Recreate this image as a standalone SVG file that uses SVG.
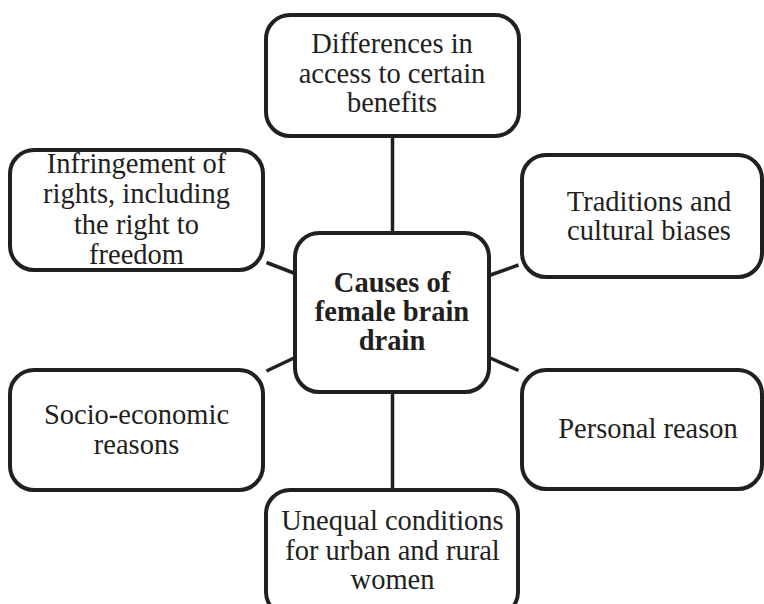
<svg xmlns="http://www.w3.org/2000/svg" width="764" height="604" viewBox="0 0 764 604">
<style>
.box{fill:#fff;stroke:#231f20;stroke-width:4}
.ln{stroke:#231f20;stroke-width:3.5;fill:none}
text{font-family:"Liberation Serif","Times New Roman",serif;font-size:28.5px;fill:#231f20;text-anchor:middle}
.b{font-weight:bold}
</style>
<rect width="764" height="604" fill="#fff"/>
<g id="connectors">
<line class="ln" x1="392.5" y1="136" x2="392.5" y2="233"/>
<line class="ln" x1="392.5" y1="392" x2="392.5" y2="490"/>
<line class="ln" x1="266.5" y1="262.5" x2="295" y2="273.5"/>
<line class="ln" x1="266.5" y1="371" x2="295" y2="357.5"/>
<line class="ln" x1="489" y1="275.5" x2="518.5" y2="265"/>
<line class="ln" x1="489" y1="357.5" x2="518.5" y2="370.5"/>
</g>
<g id="n-center">
<rect class="box" x="295" y="233" width="194" height="159" rx="24"/>
<text class="b" x="392" y="292">Causes of</text>
<text class="b" x="392" y="321">female brain</text>
<text class="b" x="392" y="350">drain</text>
</g>
<g id="n-benefits">
<rect class="box" x="266" y="15" width="253" height="121" rx="24"/>
<text x="392" y="53">Differences in</text>
<text x="392" y="83">access to certain</text>
<text x="392" y="112">benefits</text>
</g>
<g id="n-rights">
<rect class="box" x="10" y="150" width="253" height="120" rx="24"/>
<text x="136.5" y="173">Infringement of</text>
<text x="136.5" y="203">rights, including</text>
<text x="136.5" y="234">the right to</text>
<text x="136.5" y="264">freedom</text>
</g>
<g id="n-traditions">
<rect class="box" x="522" y="155" width="240" height="122" rx="24"/>
<text x="649" y="211">Traditions and</text>
<text x="649" y="240">cultural biases</text>
</g>
<g id="n-socio">
<rect class="box" x="10" y="370" width="253" height="120" rx="24"/>
<text x="136.5" y="424">Socio-economic</text>
<text x="136.5" y="454">reasons</text>
</g>
<g id="n-personal">
<rect class="box" x="522" y="370" width="240" height="119" rx="24"/>
<text x="648" y="438">Personal reason</text>
</g>
<g id="n-unequal">
<rect class="box" x="266" y="490" width="252" height="126" rx="24"/>
<text x="392.5" y="530">Unequal conditions</text>
<text x="392.5" y="560">for urban and rural</text>
<text x="392.5" y="589">women</text>
</g>
</svg>
